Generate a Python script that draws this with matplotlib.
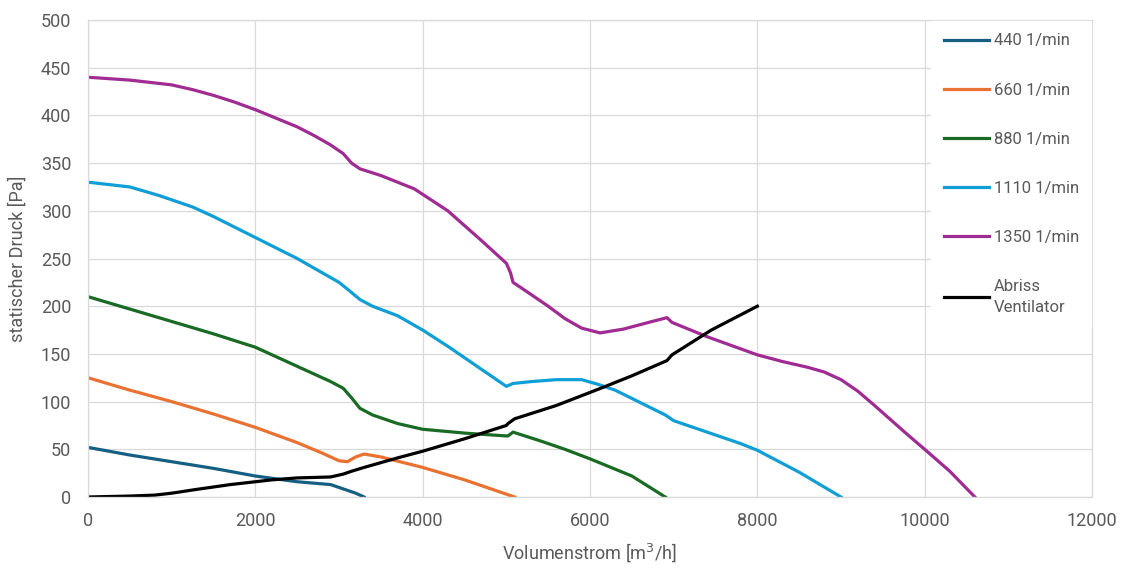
"""Kennlinien Ventilator: statischer Druck vs. Volumenstrom."""
import matplotlib
matplotlib.use("Agg")
import matplotlib.pyplot as plt

plt.rcParams.update({"font.family": ["Roboto", "DejaVu Sans"], "font.size": 13})

# --- data ------------------------------------------------------------------
x440 = [0, 500, 1000, 1500, 2000, 2500, 2900, 3100, 3200, 3300]
y440 = [52, 44, 37, 30, 22, 16, 13, 7, 4, 0]

x660 = [0, 500, 1000, 1500, 2000, 2500, 2800, 3000, 3100, 3200, 3300, 3500,
        4000, 4500, 5100]
y660 = [125, 112, 100, 87, 73, 57, 46, 38, 37, 42, 45, 42, 31, 18, 0]

x880 = [0, 500, 1000, 1500, 2000, 2500, 2900, 3050, 3150, 3250, 3400, 3700,
        4000, 4500, 5000, 5020, 5080, 5400, 5700, 6000, 6500, 6900]
y880 = [210, 197, 184, 171, 157, 137, 121, 114, 104, 93, 86, 77,
        71, 67, 64, 64, 68, 59, 50, 40, 22, 0]

x1110 = [0, 500, 850, 1250, 1500, 1750, 2000, 2500, 3000, 3100, 3250, 3400,
         3700, 4000, 4300, 4600, 5000, 5080, 5300, 5600, 5900, 6100, 6300,
         6600, 6900, 7000, 7400, 7800, 8000, 8500, 9000]
y1110 = [330, 325, 316, 304, 294, 283, 272, 250, 225, 218, 207, 200,
         190, 175, 158, 140, 116, 119, 121, 123, 123, 118, 112,
         99, 86, 80, 68, 56, 49, 26, 0]

x1350 = [0, 500, 1000, 1250, 1500, 1750, 2000, 2250, 2500, 2700, 2900, 3050,
         3150, 3250, 3500, 3900, 4300, 4700, 5000, 5050, 5080, 5300, 5500,
         5700, 5900, 6120, 6400, 6700, 6920, 6980, 7400, 8000, 8300, 8600,
         8800, 9000, 9200, 9400, 9800, 10000, 10300, 10600]
y1350 = [440, 437, 432, 427, 421, 414, 406, 397, 388, 379, 369, 360,
         350, 344, 337, 323, 300, 269, 245, 235, 225, 212, 200,
         187, 177, 172, 176, 183, 188, 183, 168, 149, 142, 136,
         131, 123, 111, 96, 65, 50, 27, 0]

x_abriss = [0, 500, 800, 1000, 1300, 1700, 2000, 2200, 2500, 2900, 3050, 3150,
            3300, 3700, 4000, 4500, 5000, 5020, 5100, 5600, 6100, 6500, 6920,
            6980, 7450, 8000]
y_abriss = [0, 1, 2, 4, 8, 13, 16, 18, 20, 21, 24, 27,
            31, 41, 48, 61, 75, 77, 82, 96, 113, 127, 143,
            149, 175, 200]

SERIES = [
    ("440 1/min", x440, y440, "#156082"),
    ("660 1/min", x660, y660, "#E97132"),
    ("880 1/min", x880, y880, "#196B24"),
    ("1110 1/min", x1110, y1110, "#0F9ED5"),
    ("1350 1/min", x1350, y1350, "#A02B93"),
    ("Abriss\nVentilator", x_abriss, y_abriss, "#000000"),
]

GREY = "#595959"
GRID = "#d9d9d9"

fig = plt.figure(figsize=(11.21, 5.68), dpi=100)
ax = fig.add_axes([88 / 1121, 1 - 497 / 568, 1004 / 1121, 477 / 568])

for label, x, y, c in SERIES:
    ax.plot(x, y, color=c, lw=2.3, label=label, solid_joinstyle="round")

ax.set_xlim(0, 12000)
ax.set_ylim(0, 500)
ax.set_xticks(range(0, 12001, 2000))
ax.set_yticks(range(0, 501, 50))
ax.grid(True, color=GRID, lw=0.9)
ax.set_axisbelow(True)
for sp in ax.spines.values():
    sp.set_color(GRID)
    sp.set_linewidth(0.9)
ax.tick_params(length=0, colors=GREY, labelsize=13)
ax.tick_params(axis="y", pad=12)
ax.tick_params(axis="x", pad=11)

ax.set_xlabel("Volumenstrom [m$^3$/h]", color=GREY, fontsize=13, labelpad=8)
ax.set_ylabel("statischer Druck [Pa]", color=GREY, fontsize=13, labelpad=10)

leg = ax.legend(loc="upper left", bbox_to_anchor=((931 - 88) / 1004, 0.998),
                frameon=True, fancybox=False, framealpha=1, edgecolor="white",
                facecolor="white", fontsize=12, handlelength=2.75,
                handletextpad=0.25, labelspacing=2.05, borderpad=0.75,
                borderaxespad=0)
for t in leg.get_texts():
    t.set_color(GREY)
    t.set_linespacing(1.45)

fig.savefig("out.png", dpi=100, facecolor="white")
